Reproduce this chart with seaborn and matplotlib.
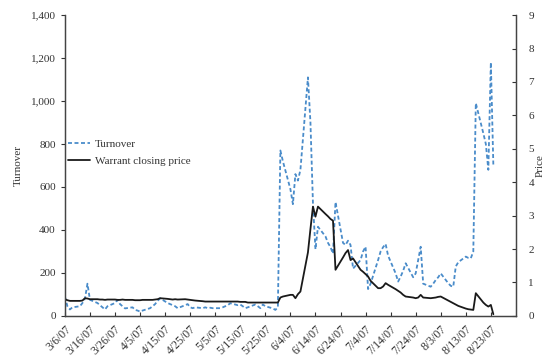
import pandas as pd
import matplotlib.pyplot as plt
import matplotlib.ticker as mticker
import seaborn as sns

# --- Data (business days 3/6/07 - 8/24/07) ---
dates = pd.bdate_range("2007-03-06", "2007-08-24")

turnover = [
    90, 45, 30, 40,
    45, 60, 80, 150, 75,
    60, 50, 40, 30, 45,
    60, 75, 55, 45, 35,
    40, 28, 25, 20, 25,
    36, 45, 55, 70, 82,
    60, 55, 50, 45, 36,
    50, 55, 40, 36, 40,
    36, 40, 36, 38, 36,
    36, 40, 45, 50, 59,
    50, 53, 45, 36, 40,
    53, 45, 36, 53, 45,
    35, 28, 40, 770, 720,
    590, 520, 660, 630, 680,
    1110, 900, 525, 310, 415,
    370, 340, 320, 290, 530,
    340, 330, 350, 330, 220,
    260, 300, 322, 125, 150,
    260, 300, 320, 335, 280,
    198, 160, 183, 210, 245,
    180, 198, 260, 322, 150,
    136, 150, 167, 180, 198,
    152, 140, 136, 230, 250,
    276, 270, 268, 300, 990,
    850, 800, 680, 1180, 700,
]

price = [
    0.50, 0.47, 0.45, 0.45,
    0.45, 0.46, 0.53, 0.52, 0.50,
    0.50, 0.49, 0.49, 0.48, 0.49,
    0.49, 0.48, 0.48, 0.49, 0.48,
    0.48, 0.47, 0.47, 0.47, 0.48,
    0.48, 0.48, 0.49, 0.50, 0.53,
    0.51, 0.50, 0.49, 0.50, 0.49,
    0.50, 0.49, 0.48, 0.47, 0.46,
    0.44, 0.43, 0.43, 0.43, 0.43,
    0.43, 0.43, 0.43, 0.43, 0.43,
    0.43, 0.42, 0.42, 0.42, 0.40,
    0.40, 0.40, 0.40, 0.40, 0.40,
    0.40, 0.40, 0.40, 0.55, 0.58,
    0.63, 0.63, 0.53, 0.65, 0.73,
    1.90, 2.60, 3.27, 2.97, 3.27,
    3.05, 2.98, 2.90, 2.85, 1.38,
    1.75, 1.88, 1.97, 1.67, 1.72,
    1.38, 1.32, 1.25, 1.18, 1.05,
    0.83, 0.83, 0.88, 0.98, 0.93,
    0.80, 0.75, 0.70, 0.63, 0.58,
    0.55, 0.53, 0.55, 0.63, 0.55,
    0.53, 0.54, 0.55, 0.57, 0.58,
    0.46, 0.42, 0.38, 0.34, 0.30,
    0.22, 0.20, 0.19, 0.18, 0.68,
    0.40, 0.33, 0.28, 0.33, 0.05,
]

tick_dates = pd.date_range("2007-03-06", "2007-08-23", freq="10D")
tick_labels = [f"{d.month}/{d.day}/{d:%y}" for d in tick_dates]

df = pd.DataFrame({"date": dates, "turnover": turnover, "price": price})

# --- Style ---
sns.set_style("ticks")
plt.rcParams["font.family"] = ["Liberation Serif", "DejaVu Serif"]
txt = "#333333"

fig = plt.figure(figsize=(5.5, 3.59), dpi=100)
ax = fig.add_axes([0.118, 0.12, 0.82, 0.838])
ax2 = ax.twinx()

sns.lineplot(data=df, x="date", y="turnover", ax=ax, color="#4a8cca",
             linestyle=(0, (2.2, 1.4)), linewidth=1.3, label="Turnover", legend=False)
sns.lineplot(data=df, x="date", y="price", ax=ax2, color="#1a1a1a",
             linewidth=1.3, label="Warrant closing price", legend=False)

ax.set_xlim(pd.Timestamp("2007-03-06"), pd.Timestamp("2007-09-02"))
ax.set_ylim(0, 1400)
ax2.set_ylim(0, 9)
ax.set_yticks(range(0, 1401, 200))
ax.yaxis.set_major_formatter(mticker.FuncFormatter(lambda v, p: f"{int(v):,}"))
ax2.set_yticks(range(0, 10))
ax.set_xticks(tick_dates)
ax.set_xticklabels(tick_labels, rotation=45, ha="right", rotation_mode="anchor")

ax.set_xlabel("")
ax.set_ylabel("Turnover", fontsize=8, color=txt, labelpad=6)
ax2.set_ylabel("Price", fontsize=8, color=txt, labelpad=1)

for a in (ax, ax2):
    a.spines["top"].set_visible(False)
    for s in a.spines.values():
        s.set_color("#444444")
        s.set_linewidth(0.9)
ax.tick_params(axis="y", direction="out", labelsize=8, colors=txt, length=3)
ax.tick_params(axis="x", direction="in", labelsize=8.5, colors=txt, length=3, pad=5)
ax2.tick_params(axis="y", direction="in", labelsize=8, colors=txt, length=3, pad=9)

h1, l1 = ax.get_legend_handles_labels()
h2, l2 = ax2.get_legend_handles_labels()
ax.legend(h1 + h2, l1 + l2, loc="upper left", bbox_to_anchor=(-0.015, 0.62),
          frameon=False, fontsize=8, handlelength=2.0, handletextpad=0.4,
          labelspacing=0.6, labelcolor=txt)

fig.savefig("out.png", dpi=100)
